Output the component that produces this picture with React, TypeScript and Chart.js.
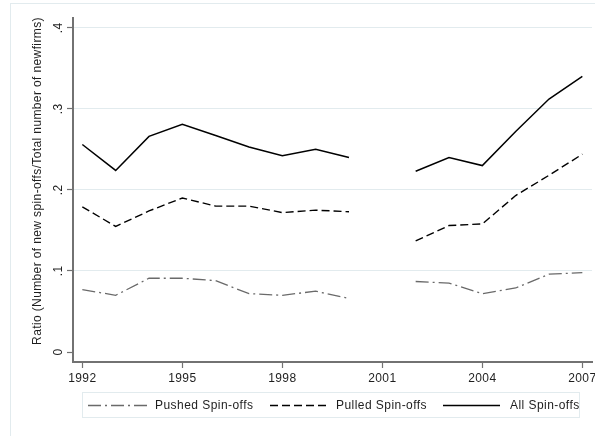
import React, { useEffect, useRef } from "react";
import { Chart, registerables } from "chart.js";

Chart.register(...registerables);

// Spin-off ratios by year (2001 not observed)
const years = [1992, 1993, 1994, 1995, 1996, 1997, 1998, 1999, 2000, 2001, 2002, 2003, 2004, 2005, 2006, 2007];
const pushedSpinoffs = [0.077, 0.070, 0.091, 0.091, 0.088, 0.072, 0.070, 0.075, 0.066, null, 0.087, 0.085, 0.072, 0.079, 0.096, 0.098];
const pulledSpinoffs = [0.179, 0.155, 0.174, 0.190, 0.180, 0.180, 0.172, 0.175, 0.173, null, 0.137, 0.156, 0.158, 0.193, 0.218, 0.244];
const allSpinoffs = [0.256, 0.224, 0.266, 0.281, 0.267, 0.253, 0.242, 0.250, 0.240, null, 0.223, 0.240, 0.230, 0.272, 0.312, 0.340];

const xTickYears = [1992, 1995, 1998, 2001, 2004, 2007];
const yTickValues = [0, 0.1, 0.2, 0.3, 0.4];
const yTickLabels = ["0", ".1", ".2", ".3", ".4"];
const seriesLabels = ["Pushed Spin-offs", "Pulled Spin-offs", "All Spin-offs"];
const yTitle = "Ratio (Number of new spin-offs/Total number of newfirms)";

const FONT = '"Liberation Sans", Arial, sans-serif';
const GRID = "#e2ebee";
const AXIS = "#727272";
const TEXT = "#1e1e1e";

const toPoints = (vals: (number | null)[]) => years.map((yr, i) => ({ x: yr, y: vals[i] }));

const decorations = {
  id: "decorations",
  beforeDraw(chart: any) {
    const { ctx } = chart;
    ctx.save();
    ctx.fillStyle = "#ffffff";
    ctx.fillRect(0, 0, chart.width, chart.height);
    ctx.strokeStyle = GRID;
    ctx.lineWidth = 1;
    ctx.strokeRect(10.5, 3.5, 700, 700);
    ctx.restore();
  },
  afterDraw(chart: any) {
    const { ctx } = chart;
    const xs = chart.scales.x;
    const ys = chart.scales.y;
    ctx.save();
    ctx.fillStyle = TEXT;
    ctx.font = `12px ${FONT}`;
    ctx.textAlign = "center";
    ctx.textBaseline = "middle";
    ctx.letterSpacing = "0.4px";

    // x tick labels
    xTickYears.forEach((yr) => {
      ctx.fillText(String(yr), xs.getPixelForValue(yr), 379);
    });

    // y tick labels, rotated
    yTickValues.forEach((v, i) => {
      ctx.save();
      ctx.translate(58.5, ys.getPixelForValue(v));
      ctx.rotate(-Math.PI / 2);
      ctx.fillText(yTickLabels[i], 0, 0);
      ctx.restore();
    });

    // y axis title
    ctx.save();
    ctx.letterSpacing = "0.38px";
    ctx.translate(38, 181);
    ctx.rotate(-Math.PI / 2);
    ctx.fillText(yTitle, 0, 0);
    ctx.restore();

    // legend
    ctx.strokeStyle = GRID;
    ctx.lineWidth = 1;
    ctx.strokeRect(82.5, 392.5, 497, 25);
    const cy = 405.5;
    const items = [
      { x0: 88, x1: 147, tx: 155 },
      { x0: 270, x1: 327, tx: 336 },
      { x0: 443, x1: 500, tx: 510 },
    ];
    ctx.textAlign = "left";
    ctx.letterSpacing = "0.45px";
    items.forEach((it, i) => {
      const ds = chart.data.datasets[i];
      ctx.save();
      ctx.strokeStyle = ds.borderColor;
      ctx.lineWidth = ds.borderWidth;
      ctx.setLineDash(ds.borderDash || []);
      ctx.beginPath();
      ctx.moveTo(it.x0, cy);
      ctx.lineTo(it.x1, cy);
      ctx.stroke();
      ctx.restore();
      ctx.fillText(seriesLabels[i], it.tx, cy);
    });
    ctx.restore();
  },
};

export default function App() {
  const canvasRef = useRef<HTMLCanvasElement | null>(null);

  useEffect(() => {
    if (!canvasRef.current) return;
    const chart = new Chart(canvasRef.current, {
      type: "line",
      data: {
        datasets: [
          {
            label: seriesLabels[0],
            data: toPoints(pushedSpinoffs),
            borderColor: "#6a6a6a",
            borderWidth: 1.3,
            borderDash: [13, 4, 2, 4],
          },
          {
            label: seriesLabels[1],
            data: toPoints(pulledSpinoffs),
            borderColor: "#000000",
            borderWidth: 1.4,
            borderDash: [8, 4],
          },
          {
            label: seriesLabels[2],
            data: toPoints(allSpinoffs),
            borderColor: "#000000",
            borderWidth: 1.5,
          },
        ] as any,
      },
      options: {
        animation: false,
        responsive: false,
        maintainAspectRatio: false,
        spanGaps: false,
        elements: { point: { radius: 0 }, line: { tension: 0 } },
        layout: { padding: { left: 0, right: 3, top: 18, bottom: 0 } },
        plugins: { legend: { display: false }, tooltip: { enabled: false } },
        scales: {
          x: {
            type: "linear",
            min: 1991.72,
            max: 2007.29,
            afterBuildTicks: (s: any) => {
              s.ticks = xTickYears.map((v) => ({ value: v }));
            },
            afterFit: (s: any) => {
              s.height = 74;
            },
            ticks: { display: false },
            grid: { drawOnChartArea: false, tickLength: 6, tickColor: AXIS, tickWidth: 1.2 },
            border: { color: AXIS, width: 2 },
          },
          y: {
            type: "linear",
            min: -0.0123,
            max: 0.412,
            afterBuildTicks: (s: any) => {
              s.ticks = yTickValues.map((v) => ({ value: v }));
            },
            afterFit: (s: any) => {
              s.width = 73;
            },
            ticks: { display: false },
            grid: {
              color: (c: any) => (c.tick && c.tick.value === 0 ? "rgba(0,0,0,0)" : GRID),
              lineWidth: 1,
              tickLength: 6,
              tickColor: AXIS,
              tickWidth: 1.2,
            },
            border: { color: AXIS, width: 2 },
          },
        },
      },
      plugins: [decorations],
    });
    return () => chart.destroy();
  }, []);

  return (
    <div style={{ position: "fixed", left: 0, top: 0, width: 595, height: 436, background: "#fff" }}>
      <canvas ref={canvasRef} width={595} height={436} style={{ width: 595, height: 436, display: "block" }} />
    </div>
  );
}
